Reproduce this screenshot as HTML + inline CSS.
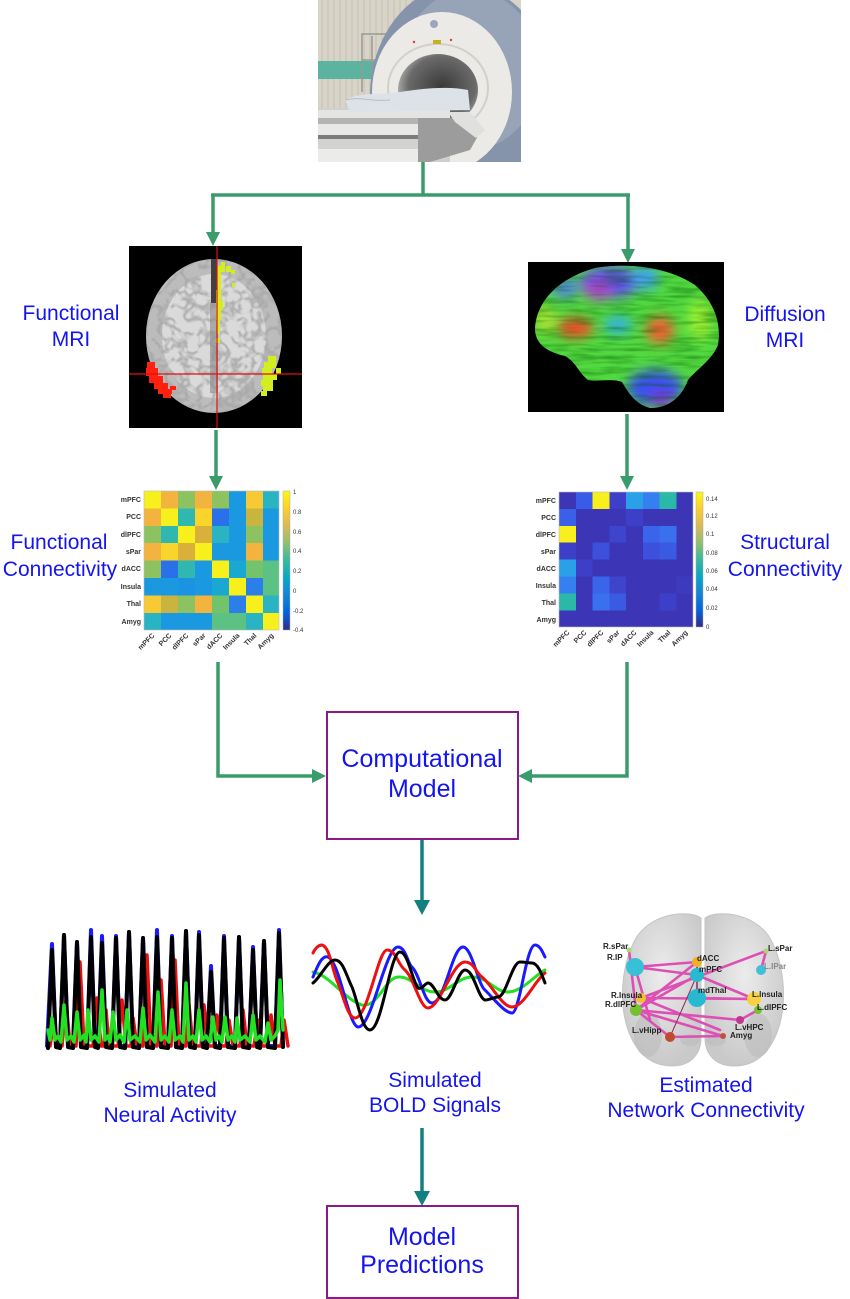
<!DOCTYPE html>
<html><head><meta charset="utf-8"><style>
html,body{margin:0;padding:0;background:#fff;}
svg{display:block;}
.t{font-family:"Liberation Sans",Arial,sans-serif;fill:#1414f0;text-anchor:middle;}
.lb{font-family:"Liberation Sans",Arial,sans-serif;font-weight:bold;font-size:7px;fill:#333;}
.tk{font-family:"Liberation Sans",Arial,sans-serif;font-size:6px;fill:#333;}
.nl{font-family:"Liberation Sans",Arial,sans-serif;font-weight:bold;font-size:8px;fill:#222;}
</style></head><body>
<svg width="850" height="1299" viewBox="0 0 850 1299" xmlns="http://www.w3.org/2000/svg">
<defs>
<clipPath id="cp"><rect x="318" y="0" width="203" height="162"/></clipPath>
<clipPath id="cb"><ellipse cx="214" cy="336" rx="68" ry="77"/></clipPath>
<clipPath id="cd"><path d="M535,330 C536,300 560,278 595,268 C630,262 670,268 695,285 C712,300 722,320 718,345 C712,360 696,370 688,380 C682,396 670,408 650,408 C635,404 628,392 622,382 C612,378 598,382 588,380 C578,372 576,362 565,356 C548,352 536,345 535,330 Z"/></clipPath>
<filter id="bl" x="-50%" y="-50%" width="200%" height="200%"><feGaussianBlur stdDeviation="6"/></filter>
<filter id="gy" x="0" y="0" width="100%" height="100%"><feTurbulence type="turbulence" baseFrequency="0.075" numOctaves="2" seed="7"/><feColorMatrix type="matrix" values="0 0 0 0 0.38  0 0 0 0 0.38  0 0 0 0 0.38  -4 0 0 0 1.15"/></filter>
<filter id="fib" x="0" y="0" width="100%" height="100%"><feTurbulence type="fractalNoise" baseFrequency="0.03 0.25" numOctaves="2" seed="3"/><feColorMatrix type="matrix" values="0 0 0 0 0  0 0 0 0 0.1  0 0 0 0 0  -2.2 0 0 0 1.3"/></filter>
<linearGradient id="par1" x1="0" y1="0" x2="0" y2="1">
<stop offset="0" stop-color="#f9fb0e"/><stop offset="0.125" stop-color="#fcce2e"/><stop offset="0.25" stop-color="#d9ba56"/><stop offset="0.375" stop-color="#92bf73"/><stop offset="0.5" stop-color="#38b99e"/><stop offset="0.625" stop-color="#06a7c6"/><stop offset="0.75" stop-color="#1485d4"/><stop offset="0.875" stop-color="#0363e1"/><stop offset="1" stop-color="#352a87"/>
</linearGradient>
<radialGradient id="bore" cx="0.55" cy="0.45" r="0.6"><stop offset="0" stop-color="#3a3a3a"/><stop offset="0.7" stop-color="#6a6a6a"/><stop offset="1" stop-color="#bdbdbd"/></radialGradient>
<radialGradient id="hemi" cx="0.5" cy="0.4" r="0.6"><stop offset="0" stop-color="#ececec"/><stop offset="1" stop-color="#c9c9c9"/></radialGradient>
</defs>

<!-- MRI photo -->
<g clip-path="url(#cp)">
<rect x="318" y="0" width="203" height="162" fill="#d8d4c8"/>
<g stroke="#c4c0b4" stroke-width="1">
<line x1="322" y1="0" x2="322" y2="108"/><line x1="328" y1="0" x2="328" y2="108"/><line x1="334" y1="0" x2="334" y2="108"/><line x1="340" y1="0" x2="340" y2="108"/><line x1="346" y1="0" x2="346" y2="108"/><line x1="352" y1="0" x2="352" y2="108"/><line x1="358" y1="0" x2="358" y2="108"/><line x1="364" y1="0" x2="364" y2="108"/><line x1="370" y1="0" x2="370" y2="108"/><line x1="376" y1="0" x2="376" y2="108"/><line x1="382" y1="0" x2="382" y2="108"/><line x1="388" y1="0" x2="388" y2="108"/><line x1="394" y1="0" x2="394" y2="108"/><line x1="400" y1="0" x2="400" y2="108"/><line x1="406" y1="0" x2="406" y2="108"/><line x1="412" y1="0" x2="412" y2="108"/>
</g>
<rect x="318" y="61" width="72" height="18" fill="#5cb3a0"/>
<g stroke="#9a9a94" stroke-width="1.5" fill="none"><path d="M362,92 L362,34 L392,34"/><path d="M372,92 L372,36"/><line x1="362" y1="60" x2="390" y2="60"/></g>
<ellipse cx="462" cy="96" rx="92" ry="112" fill="#8593ab"/>
<ellipse cx="470" cy="70" rx="70" ry="80" fill="#a4afc2" opacity="0.6"/>
<ellipse cx="442" cy="92" rx="70" ry="80" fill="#eceae6"/>
<ellipse cx="438" cy="88" rx="50" ry="44" fill="none" stroke="#d2d0ca" stroke-width="2"/>
<ellipse cx="438" cy="90" rx="40" ry="36" fill="url(#bore)"/>
<circle cx="434" cy="24" r="4" fill="#9aa6bf"/>
<rect x="433" y="40" width="8" height="4" fill="#c8b020"/>
<circle cx="414" cy="42" r="1.2" fill="#d04040"/><circle cx="451" cy="40" r="1.2" fill="#d04040"/>
<rect x="318" y="108" width="132" height="54" fill="#cfcfcf"/>
<rect x="318" y="110" width="132" height="8" fill="#e4e4e2"/>
<rect x="318" y="118" width="132" height="6" fill="#b4b4b4"/>
<rect x="318" y="124" width="100" height="11" fill="#e8e8e6"/>
<rect x="318" y="135" width="100" height="4" fill="#7c7c7c"/>
<rect x="318" y="139" width="100" height="10" fill="#d2d2d0"/>
<rect x="318" y="149" width="100" height="13" fill="#ebebe9"/>
<path d="M418,118 L455,118 L478,136 L470,150 L430,162 L418,162 Z" fill="#9c9c9c"/>
<path d="M448,112 L470,112 L485,130 L476,138 L455,122 Z" fill="#e0e0de"/>
<path d="M345,100 C360,92 380,95 400,92 C425,88 450,86 468,90 L470,110 L350,112 Z" fill="#dde1e8"/>
<path d="M345,100 C360,96 372,102 390,100" stroke="#b8bcc6" stroke-width="1" fill="none"/>
</g>

<!-- top connectors -->
<g stroke="#3a9c6a" stroke-width="3.5" fill="none">
<line x1="423" y1="162" x2="423" y2="195"/>
<line x1="211" y1="195" x2="630" y2="195"/>
<line x1="213" y1="195" x2="213" y2="234"/>
<line x1="628" y1="195" x2="628" y2="251"/>
<line x1="216" y1="430" x2="216" y2="478"/>
<line x1="627" y1="414" x2="627" y2="478"/>
<polyline points="218,662 218,776 314,776"/>
<polyline points="627,662 627,776 530,776"/>
</g>
<g fill="#3a9c6a">
<polygon points="206,232 220,232 213,246"/>
<polygon points="621,249 635,249 628,263"/>
<polygon points="209,476 223,476 216,490"/>
<polygon points="620,476 634,476 627,490"/>
<polygon points="312,769 312,783 326,776"/>
<polygon points="532,769 532,783 518,776"/>
</g>
<g stroke="#138080" stroke-width="3.5"><line x1="422" y1="840" x2="422" y2="902"/><line x1="422" y1="1128" x2="422" y2="1193"/></g>
<g fill="#138080"><polygon points="414,900 430,900 422,915"/><polygon points="414,1191 430,1191 422,1206"/></g>

<!-- functional MRI brain -->
<rect x="129" y="246" width="173" height="182" fill="#000"/>
<ellipse cx="214" cy="336" rx="68" ry="77" fill="#bcbcbc"/>
<g clip-path="url(#cb)">
<ellipse cx="214" cy="336" rx="52" ry="62" fill="#dadada"/>
<rect x="140" y="255" width="150" height="165" filter="url(#gy)" opacity="0.85"/>
<rect x="211" y="258" width="6" height="45" fill="#404040"/>
<rect x="210" y="303" width="8" height="90" fill="#8a8a8a" opacity="0.6"/>
</g>
<g fill="#d2ee20">
<rect x="217" y="266" width="4" height="24"/><rect x="221" y="262" width="4" height="10"/><rect x="226" y="266" width="5" height="6"/><rect x="231" y="270" width="4" height="4"/><rect x="216" y="290" width="5" height="30"/><rect x="220" y="300" width="3" height="10"/><rect x="217" y="320" width="3" height="14"/><rect x="216" y="338" width="4" height="5"/><rect x="232" y="283" width="3" height="4"/>
<rect x="268" y="356" width="8" height="6"/><rect x="264" y="362" width="12" height="6"/><rect x="262" y="368" width="10" height="6"/><rect x="276" y="368" width="5" height="6"/><rect x="263" y="374" width="14" height="6"/><rect x="261" y="380" width="12" height="6"/><rect x="263" y="386" width="10" height="5"/><rect x="261" y="391" width="6" height="5"/>
</g>
<g fill="#ff2010">
<rect x="147" y="362" width="8" height="6"/><rect x="146" y="368" width="12" height="8"/><rect x="149" y="376" width="14" height="7"/><rect x="154" y="383" width="14" height="6"/><rect x="158" y="389" width="14" height="5"/><rect x="163" y="394" width="8" height="4"/><rect x="170" y="386" width="6" height="4"/>
</g>
<line x1="217" y1="246" x2="217" y2="428" stroke="#e01010" stroke-width="1.2"/>
<line x1="129" y1="374" x2="302" y2="374" stroke="#e01010" stroke-width="1.2"/>

<!-- diffusion MRI -->
<rect x="528" y="262" width="196" height="150" fill="#000"/>
<g clip-path="url(#cd)">
<rect x="528" y="262" width="196" height="150" fill="#52d840"/>
<g filter="url(#bl)">
<ellipse cx="610" cy="282" rx="30" ry="16" fill="#6050f0"/>
<ellipse cx="598" cy="290" rx="14" ry="10" fill="#b040d0"/>
<ellipse cx="645" cy="278" rx="14" ry="12" fill="#40a0f0"/>
<ellipse cx="565" cy="288" rx="14" ry="10" fill="#5080e0"/>
<ellipse cx="575" cy="328" rx="18" ry="10" fill="#f04828"/>
<ellipse cx="660" cy="330" rx="14" ry="14" fill="#f06030"/>
<ellipse cx="618" cy="325" rx="14" ry="9" fill="#30b0e0"/>
<ellipse cx="655" cy="388" rx="28" ry="18" fill="#3a50f0"/>
<ellipse cx="662" cy="400" rx="12" ry="8" fill="#8030d0"/>
<ellipse cx="700" cy="320" rx="12" ry="20" fill="#9aef30"/>
<ellipse cx="545" cy="320" rx="10" ry="14" fill="#a8e030"/>
</g>
<rect x="528" y="262" width="196" height="150" filter="url(#fib)" opacity="0.45"/>
</g>

<!-- Functional connectivity matrix -->
<g shape-rendering="crispEdges">
<rect x="144" y="491" width="17" height="17.4" fill="#f8f01c"/><rect x="161" y="491" width="17" height="17.4" fill="#f2b43f"/><rect x="178" y="491" width="17" height="17.4" fill="#8cc260"/><rect x="195" y="491" width="17" height="17.4" fill="#f2b43f"/><rect x="212" y="491" width="17" height="17.4" fill="#8cc260"/><rect x="229" y="491" width="17" height="17.4" fill="#1a98e0"/><rect x="246" y="491" width="17" height="17.4" fill="#f6c935"/><rect x="263" y="491" width="16" height="17.4" fill="#2ab3c2"/>
<rect x="144" y="508.4" width="17" height="17.4" fill="#f2b43f"/><rect x="161" y="508.4" width="17" height="17.4" fill="#f8f01c"/><rect x="178" y="508.4" width="17" height="17.4" fill="#30b8b0"/><rect x="195" y="508.4" width="17" height="17.4" fill="#f9d52c"/><rect x="212" y="508.4" width="17" height="17.4" fill="#2a70e8"/><rect x="229" y="508.4" width="17" height="17.4" fill="#1a98e0"/><rect x="246" y="508.4" width="17" height="17.4" fill="#c8b43f"/><rect x="263" y="508.4" width="16" height="17.4" fill="#1a98e0"/>
<rect x="144" y="525.8" width="17" height="17.4" fill="#8cc260"/><rect x="161" y="525.8" width="17" height="17.4" fill="#30b8b0"/><rect x="178" y="525.8" width="17" height="17.4" fill="#f8f01c"/><rect x="195" y="525.8" width="17" height="17.4" fill="#d9b03a"/><rect x="212" y="525.8" width="17" height="17.4" fill="#2ab3c2"/><rect x="229" y="525.8" width="17" height="17.4" fill="#1a98e0"/><rect x="246" y="525.8" width="17" height="17.4" fill="#8cc260"/><rect x="263" y="525.8" width="16" height="17.4" fill="#1a98e0"/>
<rect x="144" y="543.2" width="17" height="17.4" fill="#f2b43f"/><rect x="161" y="543.2" width="17" height="17.4" fill="#f9d52c"/><rect x="178" y="543.2" width="17" height="17.4" fill="#d9b03a"/><rect x="195" y="543.2" width="17" height="17.4" fill="#f8f01c"/><rect x="212" y="543.2" width="17" height="17.4" fill="#1a98e0"/><rect x="229" y="543.2" width="17" height="17.4" fill="#1a98e0"/><rect x="246" y="543.2" width="17" height="17.4" fill="#f2b43f"/><rect x="263" y="543.2" width="16" height="17.4" fill="#1a98e0"/>
<rect x="144" y="560.6" width="17" height="17.4" fill="#8cc260"/><rect x="161" y="560.6" width="17" height="17.4" fill="#2a70e8"/><rect x="178" y="560.6" width="17" height="17.4" fill="#30b8b0"/><rect x="195" y="560.6" width="17" height="17.4" fill="#1a98e0"/><rect x="212" y="560.6" width="17" height="17.4" fill="#f8f01c"/><rect x="229" y="560.6" width="17" height="17.4" fill="#1aa8d2"/><rect x="246" y="560.6" width="17" height="17.4" fill="#72c36c"/><rect x="263" y="560.6" width="16" height="17.4" fill="#5cc283"/>
<rect x="144" y="578" width="17" height="17.4" fill="#1a98e0"/><rect x="161" y="578" width="17" height="17.4" fill="#1a98e0"/><rect x="178" y="578" width="17" height="17.4" fill="#1a94e2"/><rect x="195" y="578" width="17" height="17.4" fill="#1a98e0"/><rect x="212" y="578" width="17" height="17.4" fill="#1aa8d2"/><rect x="229" y="578" width="17" height="17.4" fill="#f8f01c"/><rect x="246" y="578" width="17" height="17.4" fill="#2a80e8"/><rect x="263" y="578" width="16" height="17.4" fill="#5cc283"/>
<rect x="144" y="595.4" width="17" height="17.4" fill="#f6c935"/><rect x="161" y="595.4" width="17" height="17.4" fill="#c8b43f"/><rect x="178" y="595.4" width="17" height="17.4" fill="#8cc260"/><rect x="195" y="595.4" width="17" height="17.4" fill="#f2b43f"/><rect x="212" y="595.4" width="17" height="17.4" fill="#72c36c"/><rect x="229" y="595.4" width="17" height="17.4" fill="#2a80e8"/><rect x="246" y="595.4" width="17" height="17.4" fill="#f8f01c"/><rect x="263" y="595.4" width="16" height="17.4" fill="#2ab3c2"/>
<rect x="144" y="612.8" width="17" height="17.2" fill="#2ab3c2"/><rect x="161" y="612.8" width="17" height="17.2" fill="#1a98e0"/><rect x="178" y="612.8" width="17" height="17.2" fill="#1a98e0"/><rect x="195" y="612.8" width="17" height="17.2" fill="#1a98e0"/><rect x="212" y="612.8" width="17" height="17.2" fill="#5cc283"/><rect x="229" y="612.8" width="17" height="17.2" fill="#5cc283"/><rect x="246" y="612.8" width="17" height="17.2" fill="#2ab3c2"/><rect x="263" y="612.8" width="16" height="17.2" fill="#f8f01c"/>
</g>
<rect x="144" y="491" width="135" height="139" fill="none" stroke="#bbb" stroke-width="0.6"/>
<rect x="283" y="491" width="7" height="139" fill="url(#par1)" stroke="#aaa" stroke-width="0.5"/>
<g class="lb" text-anchor="end">
<text x="141" y="502">mPFC</text><text x="141" y="519">PCC</text><text x="141" y="537">dlPFC</text><text x="141" y="554">sPar</text><text x="141" y="571">dACC</text><text x="141" y="589">Insula</text><text x="141" y="606">Thal</text><text x="141" y="624">Amyg</text>
<text transform="translate(155,636) rotate(-45)">mPFC</text><text transform="translate(172,636) rotate(-45)">PCC</text><text transform="translate(189,636) rotate(-45)">dlPFC</text><text transform="translate(206,636) rotate(-45)">sPar</text><text transform="translate(223,636) rotate(-45)">dACC</text><text transform="translate(240,636) rotate(-45)">Insula</text><text transform="translate(257,636) rotate(-45)">Thal</text><text transform="translate(274,636) rotate(-45)">Amyg</text>
</g>
<g class="tk"><text x="293" y="494">1</text><text x="293" y="514">0.8</text><text x="293" y="534">0.6</text><text x="293" y="553">0.4</text><text x="293" y="573">0.2</text><text x="293" y="593">0</text><text x="293" y="613">-0.2</text><text x="293" y="632">-0.4</text></g>

<!-- Structural connectivity matrix -->
<g shape-rendering="crispEdges">
<rect x="559" y="492" width="134" height="135" fill="#3c35b5"/>
<rect x="575.75" y="492" width="16.75" height="16.9" fill="#3a5ae8"/><rect x="592.5" y="492" width="16.75" height="16.9" fill="#f8f01c"/><rect x="609.25" y="492" width="16.75" height="16.9" fill="#3e3fc8"/><rect x="626" y="492" width="16.75" height="16.9" fill="#2aa0e8"/><rect x="642.75" y="492" width="16.75" height="16.9" fill="#3580f0"/><rect x="659.5" y="492" width="16.75" height="16.9" fill="#2ab8a8"/>
<rect x="559" y="508.9" width="16.75" height="16.9" fill="#3a60e8"/><rect x="626" y="508.9" width="16.75" height="16.9" fill="#3e3fc8"/>
<rect x="559" y="525.8" width="16.75" height="16.9" fill="#f8f01c"/><rect x="609.25" y="525.8" width="16.75" height="16.9" fill="#3e45cc"/><rect x="642.75" y="525.8" width="16.75" height="16.9" fill="#3a64ea"/><rect x="659.5" y="525.8" width="16.75" height="16.9" fill="#3a70ee"/>
<rect x="559" y="542.7" width="16.75" height="16.9" fill="#3e3fc8"/><rect x="592.5" y="542.7" width="16.75" height="16.9" fill="#3c50dc"/><rect x="642.75" y="542.7" width="16.75" height="16.9" fill="#3c50dc"/><rect x="659.5" y="542.7" width="16.75" height="16.9" fill="#3b5ae2"/>
<rect x="559" y="559.6" width="16.75" height="16.9" fill="#2aa0e8"/><rect x="575.75" y="559.6" width="16.75" height="16.9" fill="#3e3fc8"/>
<rect x="559" y="576.5" width="16.75" height="16.9" fill="#3580f0"/><rect x="592.5" y="576.5" width="16.75" height="16.9" fill="#3a64ea"/><rect x="609.25" y="576.5" width="16.75" height="16.9" fill="#3e45cc"/><rect x="676.25" y="576.5" width="16.75" height="16.9" fill="#3d3abe"/>
<rect x="559" y="593.4" width="16.75" height="16.9" fill="#2ab8a8"/><rect x="592.5" y="593.4" width="16.75" height="16.9" fill="#3a70ee"/><rect x="609.25" y="593.4" width="16.75" height="16.9" fill="#3b5ae2"/><rect x="659.5" y="593.4" width="16.75" height="16.9" fill="#3e3fc8"/>
</g>
<rect x="559" y="492" width="134" height="135" fill="none" stroke="#bbb" stroke-width="0.6"/>
<rect x="696" y="492" width="7" height="135" fill="url(#par1)" stroke="#aaa" stroke-width="0.5"/>
<g class="lb" text-anchor="end">
<text x="556" y="503">mPFC</text><text x="556" y="520">PCC</text><text x="556" y="537">dlPFC</text><text x="556" y="554">sPar</text><text x="556" y="571">dACC</text><text x="556" y="588">Insula</text><text x="556" y="605">Thal</text><text x="556" y="622">Amyg</text>
<text transform="translate(570,633) rotate(-45)">mPFC</text><text transform="translate(587,633) rotate(-45)">PCC</text><text transform="translate(604,633) rotate(-45)">dlPFC</text><text transform="translate(620,633) rotate(-45)">sPar</text><text transform="translate(637,633) rotate(-45)">dACC</text><text transform="translate(654,633) rotate(-45)">Insula</text><text transform="translate(671,633) rotate(-45)">Thal</text><text transform="translate(688,633) rotate(-45)">Amyg</text>
</g>
<g class="tk"><text x="706" y="501">0.14</text><text x="706" y="518">0.12</text><text x="706" y="536">0.1</text><text x="706" y="555">0.08</text><text x="706" y="573">0.06</text><text x="706" y="591">0.04</text><text x="706" y="610">0.02</text><text x="706" y="629">0</text></g>

<!-- boxes -->
<rect x="327" y="712" width="191" height="127" fill="#fff" stroke="#8a1a8a" stroke-width="2"/>
<rect x="327" y="1206" width="191" height="92" fill="#fff" stroke="#8a1a8a" stroke-width="2"/>

<!-- Neural activity -->
<g fill="none" stroke-linejoin="round" stroke-linecap="round">
<path stroke="#1a1aff" stroke-width="4" d="M48,1047 L47,1046 L52,944 L56,1046 L60,1046 L64,935 L68,1046 L73,1046 L77,942 L81,1046 L87,1046 L91,930 L95,1046 L98,1046 L102,936 L106,1046 L112,1046 L116,936 L120,1046 L125,1046 L129,932 L133,1046 L139,1046 L143,938 L147,1046 L153,1046 L157,930 L161,1046 L168,1046 L172,936 L176,1046 L182,1046 L186,931 L190,1046 L195,1046 L199,932 L203,1046 L207,1046 L211,966 L215,1046 L220,1046 L224,936 L228,1046 L235,1046 L239,937 L243,1046 L249,1046 L253,947 L257,1046 L260,1046 L264,941 L268,1046 L275,1046 L279,930 L283,1046"/>
<path stroke="#ee1010" stroke-width="3.5" d="M50,1046 L54,1020 L58,1046 L62,1046 L66,1000 L70,1046 L76,1046 L80,962 L84,1046 L93,1046 L97,998 L101,1046 L104,1046 L106,1010 L109,1046 L118,1046 L122,1000 L126,1046 L131,1046 L133,1018 L137,1046 L143,1046 L147,955 L151,1046 L157,1046 L161,980 L165,1046 L171,1046 L175,960 L179,1046 L186,1046 L189,1005 L193,1046 L201,1046 L204,1005 L208,1046 L214,1046 L217,1015 L221,1046 L226,1046 L229,1020 L233,1046 L240,1046 L243,1010 L247,1046 L254,1046 L258,1020 L262,1046 L268,1046 L271,1015 L275,1046 L281,1046 L284,1020 L288,1046"/>
<path stroke="#000" stroke-width="4" d="M48,1048 L52,950 L56,1047 L60,1048 L64,935 L68,1047 L73,1048 L77,942 L81,1047 L87,1048 L91,937 L95,1047 L98,1048 L102,943 L106,1047 L112,1048 L116,938 L120,1047 L125,1048 L129,932 L133,1047 L139,1048 L143,938 L147,1047 L153,1048 L157,937 L161,1047 L168,1048 L172,938 L176,1047 L182,1048 L186,931 L190,1047 L195,1048 L199,935 L203,1047 L207,1048 L211,972 L215,1047 L220,1048 L224,938 L228,1047 L235,1048 L239,937 L243,1047 L249,1048 L253,950 L257,1047 L260,1048 L264,941 L268,1047 L275,1048 L279,933 L283,1047"/>
<path stroke="#22e022" stroke-width="3.5" d="M48,1030 L50,1040 L52,1018 L55,1040 L58,1036 L61,1042 L64,1005 L67,1040 L71,1036 L74,1042 L77,1012 L80,1040 L84,1035 L86,1042 L88,1010 L91,1040 L95,1036 L99,1042 L102,990 L105,1040 L108,1036 L110,1042 L113,1012 L116,1040 L120,1035 L124,1042 L127,1010 L130,1040 L135,1036 L140,1042 L143,1008 L146,1040 L150,1035 L155,1042 L158,992 L161,1040 L165,1036 L169,1042 L172,1010 L175,1040 L180,1036 L183,1042 L186,983 L189,1040 L193,1036 L196,1042 L199,1010 L202,1040 L206,1036 L210,1042 L213,1017 L216,1040 L219,1036 L222,1042 L225,1017 L228,1040 L232,1036 L235,1042 L237,1018 L240,1040 L245,1036 L250,1042 L253,1015 L256,1040 L260,1036 L265,1042 L268,1023 L271,1040 L275,1036 L278,1030 L280,980 L283,1030"/>
</g>

<!-- BOLD signals -->
<g fill="none" stroke-width="3" stroke-linecap="round" stroke-linejoin="round">
<path stroke="#22e022" d="M313,972 C330,975 345,1000 362,1005 C378,1008 385,978 398,977 C412,976 420,992 435,992 C450,992 458,977 472,977 C488,977 495,992 508,992 C522,992 535,975 545,970"/>
<path stroke="#1a1aff" d="M313,977 C318,965 322,955 328,957 C340,962 348,1025 358,1027 C372,1028 385,947 398,947 C406,947 408,965 412,967 C420,975 424,1003 432,1003 C445,1003 452,947 463,947 C472,947 478,985 485,990 C495,1000 505,1013 512,1013 C520,1013 526,945 535,945 C540,945 543,953 545,957"/>
<path stroke="#ee1010" d="M313,953 C316,947 319,945 322,945 C330,947 332,970 338,983 C344,998 348,1018 355,1018 C368,1018 378,950 387,950 C396,950 398,965 405,970 C414,978 420,1008 428,1008 C440,1008 452,962 465,962 C474,962 476,973 482,977 C492,985 502,1007 512,1007 C524,1007 535,980 545,973"/>
<path stroke="#000" d="M313,983 C320,978 328,960 335,960 C343,960 346,975 352,987 C358,1002 362,1030 370,1030 C382,1030 390,952 400,952 C408,952 412,980 418,988 C422,990 425,983 428,983 C434,983 438,1000 445,1000 C452,1000 458,970 465,970 C474,970 478,998 485,1000 C490,1000 494,997 498,997 C506,997 512,962 520,962 C526,962 528,963 532,963 C538,963 542,975 545,983"/>
</g>

<!-- network connectivity -->
<path d="M701,918 C690,910 655,912 638,935 C622,960 618,1000 628,1030 C636,1052 650,1066 672,1066 C690,1066 700,1055 701,1040 Z" fill="url(#hemi)" stroke="#c4c4c4" stroke-width="1"/>
<path d="M705,918 C716,910 751,912 768,935 C784,960 788,1000 778,1030 C770,1052 756,1066 734,1066 C716,1066 706,1055 705,1040 Z" fill="url(#hemi)" stroke="#c4c4c4" stroke-width="1"/>
<g fill="#bdbdbd" opacity="0.6"><ellipse cx="648" cy="1035" rx="14" ry="22"/><ellipse cx="758" cy="1035" rx="14" ry="22"/><ellipse cx="690" cy="1040" rx="10" ry="6"/><ellipse cx="716" cy="1040" rx="10" ry="6"/></g>
<g stroke="#dd4fb4" stroke-width="2.6" fill="none" stroke-linecap="round">
<line x1="629" y1="950" x2="636" y2="1010"/><line x1="635" y1="967" x2="697" y2="962"/><line x1="635" y1="967" x2="697" y2="975"/>
<line x1="636" y1="1010" x2="697" y2="975"/><line x1="636" y1="1010" x2="697" y2="962"/><line x1="641" y1="998" x2="754" y2="999"/>
<line x1="636" y1="1010" x2="723" y2="1036"/><line x1="636" y1="1010" x2="740" y2="1020"/><line x1="697" y1="975" x2="754" y2="999"/>
<line x1="766" y1="951" x2="641" y2="998"/><line x1="766" y1="951" x2="761" y2="970"/><line x1="740" y1="1020" x2="758" y2="1010"/>
<line x1="670" y1="1037" x2="723" y2="1036"/><line x1="636" y1="1010" x2="670" y2="1037"/><line x1="641" y1="998" x2="720" y2="1030"/>
<line x1="635" y1="967" x2="650" y2="1020"/><line x1="697" y1="998" x2="754" y2="999"/>
</g>
<line x1="697" y1="975" x2="670" y2="1037" stroke="#8a2a60" stroke-width="1"/>
<line x1="697" y1="962" x2="697" y2="998" stroke="#8a2a60" stroke-width="1.5"/>
<g>
<circle cx="629" cy="950" r="2.5" fill="#a8d870"/>
<circle cx="635" cy="967" r="9" fill="#38c0d8"/>
<circle cx="697" cy="962" r="5" fill="#f0b020"/>
<circle cx="697" cy="975" r="7" fill="#28b8d0"/>
<circle cx="697" cy="998" r="9" fill="#28b8d0"/>
<circle cx="641" cy="998" r="5" fill="#f0c030"/>
<circle cx="636" cy="1010" r="6" fill="#78c030"/>
<circle cx="766" cy="951" r="2.5" fill="#a8d870"/>
<circle cx="761" cy="970" r="5" fill="#40c0d8"/>
<circle cx="754" cy="999" r="7" fill="#f8d040"/>
<circle cx="758" cy="1010" r="4" fill="#78c030"/>
<circle cx="740" cy="1020" r="4" fill="#c03890"/>
<circle cx="723" cy="1036" r="3" fill="#c05040"/>
<circle cx="670" cy="1037" r="5" fill="#c04a30"/>
</g>
<g class="nl">
<text x="603" y="949">R.sPar</text><text x="607" y="960">R.IP</text><text x="697" y="961">dACC</text><text x="699" y="972">mPFC</text><text x="698" y="993">mdThal</text>
<text x="611" y="998">R.Insula</text><text x="605" y="1007">R.dlPFC</text><text x="768" y="951">L.sPar</text><text x="764" y="969" fill="#888">L.IPar</text>
<text x="752" y="997">L.Insula</text><text x="757" y="1010">L.dlPFC</text><text x="735" y="1030">L.vHPC</text><text x="730" y="1038">Amyg</text><text x="632" y="1033">L.vHipp</text>
</g>

<!-- labels -->
<g class="t" font-size="21">
<text x="71" y="320">Functional</text><text x="71" y="346">MRI</text>
<text x="785" y="321">Diffusion</text><text x="785" y="347">MRI</text>
<text x="59" y="549">Functional</text><text x="60" y="576">Connectivity</text>
<text x="785" y="549">Structural</text><text x="785" y="576">Connectivity</text>
<text x="170" y="1097">Simulated</text><text x="170" y="1122">Neural Activity</text>
<text x="435" y="1087">Simulated</text><text x="435" y="1112">BOLD Signals</text>
<text x="706" y="1092">Estimated</text><text x="706" y="1117">Network Connectivity</text>
</g>
<g class="t" font-size="25">
<text x="422" y="767">Computational</text><text x="422" y="797">Model</text>
<text x="422" y="1245">Model</text><text x="422" y="1273">Predictions</text>
</g>
</svg>
</body></html>
